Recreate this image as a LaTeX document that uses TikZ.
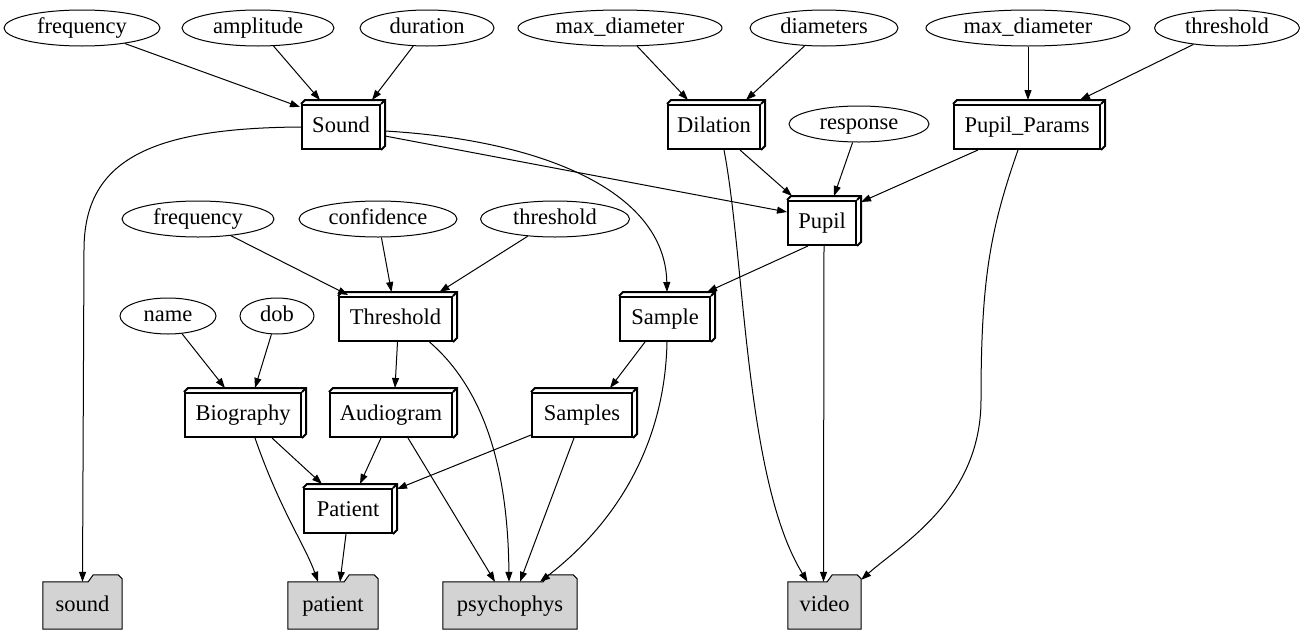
\documentclass[tikz,border=0pt]{standalone}
\usepackage{fontspec}
\setmainfont{Liberation Serif}
\usetikzlibrary{arrows.meta,shapes.geometric,backgrounds}
\definecolor{foldgray}{RGB}{211,211,211}
\begin{document}
\begin{tikzpicture}[x=1pt,y=-1pt,
  font=\fontsize{22.5}{26}\selectfont,
  every node/.style={text height=16pt, text depth=5pt},
  ell/.style={draw, ellipse, inner sep=0pt, line width=1pt, minimum height=36pt},
  bthree/.style={draw, rectangle, line width=2pt, inner sep=0pt, minimum height=44pt},
  fold/.style={rectangle, inner sep=0pt, minimum height=47pt},
  edge/.style={draw, line width=1pt, -{Triangle[length=10pt,width=7pt]}}
]
\useasboundingbox (0,0) rectangle (1307,635);

% ellipses
\node[ell, minimum width=156pt] (f1) at (82,28) {frequency};
\node[ell, minimum width=152pt] (amp) at (258,28) {amplitude};
\node[ell, minimum width=134pt] (dur) at (427,28) {duration};
\node[ell, minimum width=204pt] (md1) at (620,28) {max\_diameter};
\node[ell, minimum width=148pt] (diam) at (824,28) {diameters};
\node[ell, minimum width=204pt] (md2) at (1028,28) {max\_diameter};
\node[ell, minimum width=145pt] (thr1) at (1227,28) {threshold};
\node[ell, minimum width=140pt] (resp) at (859,124) {response};
\node[ell, minimum width=152pt] (f2) at (198,219) {frequency};
\node[ell, minimum width=158pt] (conf) at (378,219) {confidence};
\node[ell, minimum width=149pt] (thr2) at (555,219) {threshold};
\node[ell, minimum width=96pt] (name) at (168,316) {name};
\node[ell, minimum width=74pt] (dob) at (277,316) {dob};

% box3d nodes (front faces)
\node[bthree, minimum width=78pt] (Sound) at (341,127) {Sound};
\node[bthree, minimum width=92pt] (Dilation) at (714,127) {Dilation};
\node[bthree, minimum width=146pt] (PP) at (1027,127) {Pupil\_Params};
\node[bthree, minimum width=68pt] (Pupil) at (822,223) {Pupil};
\node[bthree, minimum width=113pt] (Threshold) at (395.5,319) {Threshold};
\node[bthree, minimum width=90pt] (Sample) at (665,319) {Sample};
\node[bthree, minimum width=116pt] (Biography) at (243,415) {Biography};
\node[bthree, minimum width=122pt] (Audiogram) at (391,415) {Audiogram};
\node[bthree, minimum width=100pt] (Samples) at (582,415) {Samples};
\node[bthree, minimum width=88pt] (Patient) at (348,511) {Patient};

\foreach \n in {Sound,Dilation,PP,Pupil,Threshold,Sample,Biography,Audiogram,Samples,Patient}{
  \draw[line width=2pt, line join=miter] (\n.north west) -- ++(4,-4) -- ([shift={(4,-4)}]\n.north east) -- ([shift={(4,-4)}]\n.south east) -- (\n.south east);
  \draw[line width=2pt] (\n.north east) -- ++(4,-4);
}

% folders
\node[fold, minimum width=79pt] (fsound) at (82.5,605.5) {sound};
\node[fold, minimum width=90pt] (fpatient) at (333,605.5) {patient};
\node[fold, minimum width=134pt] (fpsy) at (510,605.5) {psychophys};
\node[fold, minimum width=73pt] (fvideo) at (824.5,605.5) {video};

\begin{scope}[on background layer]
\foreach \n in {fsound,fpatient,fpsy,fvideo}{
  \filldraw[fill=foldgray, line width=1pt, line join=miter] (\n.south west) -- (\n.north west) -- ([shift={(-34,0)}]\n.north east) -- ++(5,-7) -- ++(25,0) -- ++(4,4) -- (\n.south east) -- cycle;
}
\end{scope}

% edges into Sound
\draw[edge] (f1) -- ([shift={(-1,3)}]Sound.north west);
\draw[edge] (amp) -- ([shift={(-21,-4)}]Sound.north);
\draw[edge] (dur) -- ([shift={(31,-4)}]Sound.north);
% into Dilation
\draw[edge] (md1) -- ([shift={(-26,-4)}]Dilation.north);
\draw[edge] (diam) -- ([shift={(32,-4)}]Dilation.north);
% into Pupil_Params
\draw[edge] (md2) -- ([shift={(1,-4)}]PP.north);
\draw[edge] (thr1) -- ([shift={(53,-4)}]PP.north);
% into Pupil
\draw[edge] (resp) -- ([shift={(12,-4)}]Pupil.north);
\draw[edge] ([shift={(26,0)}]Dilation.south) -- ([shift={(-30,-4)}]Pupil.north);
\draw[edge] ([shift={(-49,0)}]PP.south) -- ([shift={(4,2)}]Pupil.north east);
\draw[edge] ([shift={(4,9)}]Sound.east) -- ([shift={(0,-11)}]Pupil.west);
% Sound to sound folder and Sample
\draw[edge] (Sound.west) .. controls (150,128) and (84,160) .. (84,250) -- (fsound.north);
\draw[edge] ([shift={(4,4)}]Sound.east) .. controls (540,140) and (665,190) .. ([shift={(2,-4)}]Sample.north);
% Pupil outputs
\draw[edge] ([shift={(-14,0)}]Pupil.south) -- ([shift={(-4,-4)}]Sample.north east);
\draw[edge] ([shift={(2,0)}]Pupil.south) -- ([shift={(-1,0)}]fvideo.north);
% video inputs
\draw[edge] ([shift={(10,0)}]Dilation.south) .. controls (745,260) and (745,480) .. ([shift={(-17,0)}]fvideo.north);
\draw[edge] ([shift={(-9,0)}]PP.south) .. controls (990,230) and (981,280) .. (981,400) .. controls (981,500) and (900,545) .. ([shift={(0,-2)}]fvideo.north east);
% into Threshold
\draw[edge] (f2) -- ([shift={(10,-1)}]Threshold.north west);
\draw[edge] (conf) -- ([shift={(-4,-4)}]Threshold.north);
\draw[edge] (thr2) -- ([shift={(44,-4)}]Threshold.north);
% into Biography
\draw[edge] (name) -- ([shift={(-18,-4)}]Biography.north);
\draw[edge] (dob) -- ([shift={(12,-4)}]Biography.north);
% Threshold outputs
\draw[edge] ([shift={(2,0)}]Threshold.south) -- ([shift={(4,-4)}]Audiogram.north);
\draw[edge] ([shift={(34,0)}]Threshold.south) .. controls (485,390) and (508,470) .. ([shift={(-1,0)}]fpsy.north);
% Sample outputs
\draw[edge] ([shift={(-20,0)}]Sample.south) -- ([shift={(28,-4)}]Samples.north);
\draw[edge] ([shift={(2,0)}]Sample.south) .. controls (665,440) and (620,520) .. ([shift={(30,0)}]fpsy.north);
% Audiogram outputs
\draw[edge] ([shift={(-10,0)}]Audiogram.south) -- ([shift={(12,-4)}]Patient.north);
\draw[edge] ([shift={(17,0)}]Audiogram.south) -- ([shift={(-15,0)}]fpsy.north);
% Biography outputs
\draw[edge] ([shift={(29,0)}]Biography.south) -- ([shift={(-26,-4)}]Patient.north);
\draw[edge] ([shift={(12,0)}]Biography.south) .. controls (280,510) and (305,545) .. ([shift={(-15,0)}]fpatient.north);
% Samples outputs
\draw[edge] ([shift={(0,-3)}]Samples.south west) -- ([shift={(4,1)}]Patient.north east);
\draw[edge] ([shift={(-8,0)}]Samples.south) -- ([shift={(10,0)}]fpsy.north);
% Patient output
\draw[edge] ([shift={(-2,0)}]Patient.south) -- ([shift={(7,0)}]fpatient.north);
\end{tikzpicture}
\end{document}
